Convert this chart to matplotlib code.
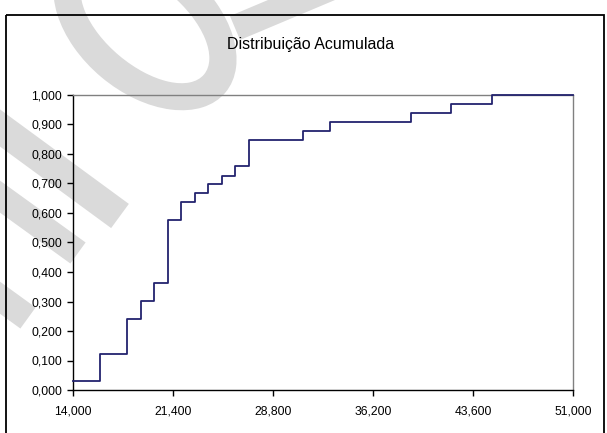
import numpy as np
import matplotlib
matplotlib.use("Agg")
import matplotlib.pyplot as plt
from matplotlib.patches import Polygon, Annulus, Rectangle
from matplotlib.ticker import FuncFormatter

# cumulative distribution: step positions and cumulative frequency
x_steps = [14000, 16000, 18000, 19000, 20000, 21000, 22000, 23000, 24000,
           25000, 26000, 27000, 31000, 33000, 39000, 42000, 45000, 51000]
cum_freq = [0.030, 0.121, 0.242, 0.303, 0.364, 0.576, 0.636, 0.667, 0.697,
            0.727, 0.758, 0.848, 0.879, 0.909, 0.939, 0.970, 1.000, 1.000]

x_ticks = [14000, 21400, 28800, 36200, 43600, 51000]
y_ticks = [0.0, 0.1, 0.2, 0.3, 0.4, 0.5, 0.6, 0.7, 0.8, 0.9, 1.0]

W, H = 607, 433
plt.rcParams['font.family'] = ['Liberation Sans', 'DejaVu Sans']

fig = plt.figure(figsize=(W / 100, H / 100), dpi=100)
fig.patch.set_facecolor('white')

# background layer in pixel coordinates (watermark strokes + chart frame)
bg = fig.add_axes([0, 0, 1, 1], zorder=0)
bg.set_xlim(0, W)
bg.set_ylim(H, 0)
bg.axis('off')

wm_color = '#dadada'


def band(p0, p1, width):
    p0, p1 = np.array(p0, float), np.array(p1, float)
    d = p1 - p0
    n = np.array([-d[1], d[0]]) / np.hypot(*d) * width / 2
    return Polygon([p0 + n, p1 + n, p1 - n, p0 - n], closed=True,
                   facecolor=wm_color, edgecolor='none')


bg.add_patch(Annulus((145, 25), (105, 68), 28, angle=40,
                     facecolor=wm_color, edgecolor='none'))
bg.add_patch(band((235, 28), (330, -12), 26))
bg.add_patch(band((-30, 106), (120, 216), 30))
bg.add_patch(band((-30, 175), (78, 253), 26))
bg.add_patch(band((-30, 276), (28, 318), 26))

# outer chart frame
bg.add_patch(Rectangle((6, 15), 598, 440, fill=False, edgecolor='black',
                       linewidth=1.3))

bg.text(311, 45, 'Distribuição Acumulada', ha='center', va='center',
        fontsize=11.5, color='black')

ax = fig.add_axes([73 / W, 1 - 390 / H, 500 / W, 295 / H], zorder=1)
ax.set_facecolor('none')
ax.step(x_steps, cum_freq, where='post', color='#23236e', linewidth=1.3,
        clip_on=False, zorder=3)

ax.set_xlim(14000, 51000)
ax.set_ylim(0, 1)
ax.set_xticks(x_ticks)
ax.set_yticks(y_ticks)
ax.xaxis.set_major_formatter(FuncFormatter(lambda v, p: f'{v:,.0f}'))
ax.yaxis.set_major_formatter(FuncFormatter(lambda v, p: f'{v:.3f}'.replace('.', ',')))
ax.tick_params(axis='both', direction='out', length=4, width=1,
               labelsize=8.7, colors='black')
ax.tick_params(axis='y', pad=4)
ax.tick_params(axis='x', pad=7)

for side in ('left', 'bottom'):
    ax.spines[side].set_color('black')
    ax.spines[side].set_linewidth(1.0)
for side in ('top', 'right'):
    ax.spines[side].set_color('#808080')
    ax.spines[side].set_linewidth(1.0)

fig.savefig('out.png', dpi=100)
